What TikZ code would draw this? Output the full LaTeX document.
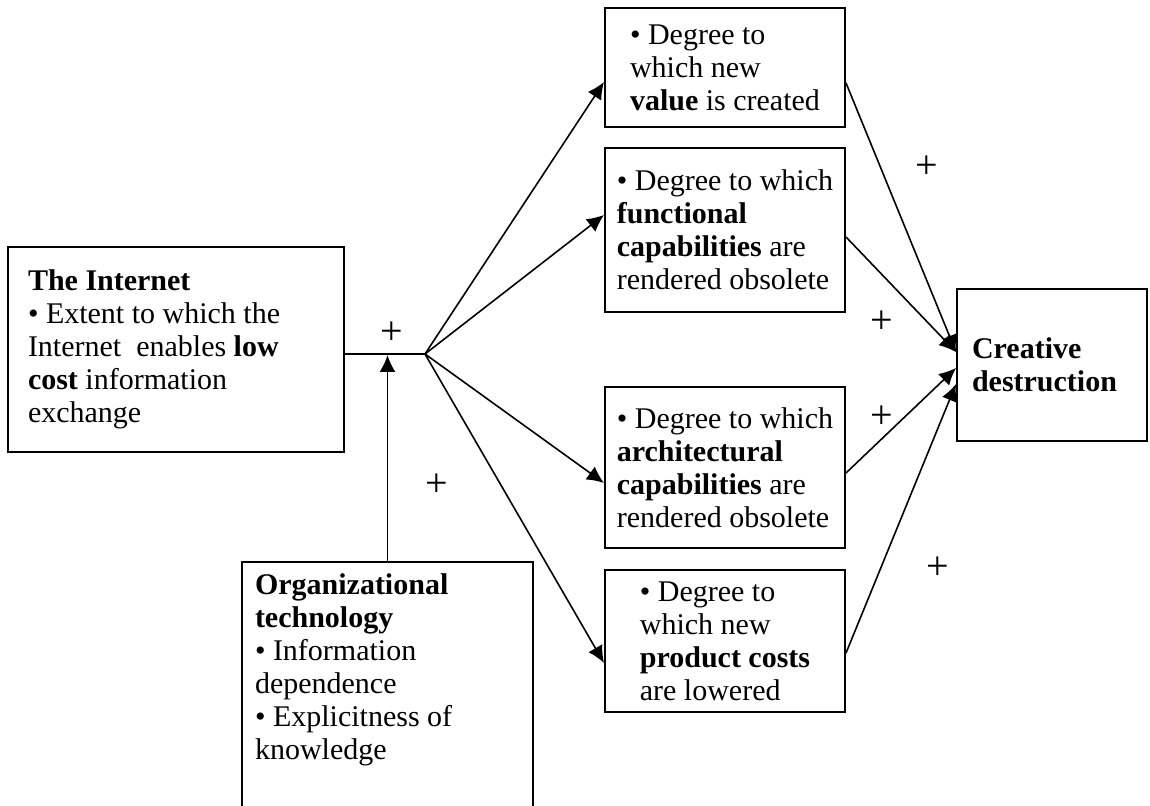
\documentclass[tikz,border=0pt]{standalone}
\usepackage{fontspec}
\setmainfont{Liberation Serif}
\usetikzlibrary{arrows.meta}
\begin{document}
\begin{tikzpicture}[x=0.5pt,y=-0.5pt,
    box/.style={draw,line width=1pt,align=flush left,font=\fontsize{15}{16.5}\selectfont},
    link/.style={line width=0.8pt,-{Latex[length=8.5pt,width=8pt]}},
    plus/.style={font=\fontsize{20}{20}\selectfont,inner sep=0pt}]
        \useasboundingbox (0,0) rectangle (1150,806);
        %left side
        \node[box,text width=148pt,inner xsep=10pt,minimum height=102.5pt] (internet) at (176,349.5)
            {\textbf{The Internet}\\ \textbullet\ Extent to which the\\ Internet\ \ enables \textbf{low}\\ \textbf{cost} information\\ exchange};
        \node[box,text width=132.5pt,inner xsep=6.5pt,inner ysep=6pt,text depth=160pt,anchor=north] (orgtech) at (387.5,561)
            {\textbf{Organizational}\\ \textbf{technology}\\ \textbullet\ Information\\ dependence\\ \textbullet\ Explicitness of\\ knowledge};
        \coordinate (jn) at (425,354);
        
        %middle column
        \node[box,minimum width=120pt,minimum height=59.5pt] (value) at (725,67.5)
            {\textbullet\ Degree to\\ which new\\ \textbf{value} is created};
        \node[box,minimum width=120pt,minimum height=82pt] (funct) at (725,230)
            {\textbullet\ Degree to which\\ \textbf{functional}\\ \textbf{capabilities} are\\ rendered obsolete};
        \node[box,minimum width=120pt,minimum height=80.5pt] (arch) at (725,467.5)
            {\textbullet\ Degree to which\\ \textbf{architectural}\\ \textbf{capabilities} are\\ rendered obsolete};
        \node[box,minimum width=120pt,minimum height=71pt] (cost) at (725,641)
            {\textbullet\ Degree to\\ which new\\ \textbf{product costs}\\ are lowered};
        
        %right side
        \node[box,text width=80pt,inner xsep=7.5pt,minimum height=76pt] (creative) at (1052,365)
            {\textbf{Creative}\\ \textbf{destruction}};
        
        %links
        \draw[line width=0.8pt] (internet.east |- jn) -- (jn);
        \draw[link,shorten >=0.5pt] (orgtech.north) -- (orgtech.north |- jn);
        \draw[link] (jn) -- ([yshift=-7.25pt]value.west);
        \draw[link] (jn) -- ([yshift=7.5pt]funct.west);
        \draw[link] (jn) -- ([yshift=-7.75pt]arch.west);
        \draw[link] (jn) -- ([yshift=-11pt]cost.west);
        \draw[link] ([yshift=-7.75pt]value.east) -- ([yshift=6.5pt]creative.west);
        \draw[link] ([yshift=-3.5pt]funct.east) -- ([yshift=6.5pt]creative.west);
        \draw[link] ([yshift=-2.75pt]arch.east) -- ([yshift=-1.5pt]creative.west);
        \draw[link] ([yshift=-6pt]cost.east) -- ([yshift=-9.5pt]creative.west);
        
        %signs
        \node[plus] (pjn) at (392,333) {+};
        \node[plus] (porg) at (437,485) {+};
        \node[plus] (pvalue) at (927,167) {+};
        \node[plus] (pfunct) at (882,322) {+};
        \node[plus] (parch) at (882,417) {+};
        \node[plus] (pcost) at (938,568) {+};
        
    \end{tikzpicture}
\end{document}
